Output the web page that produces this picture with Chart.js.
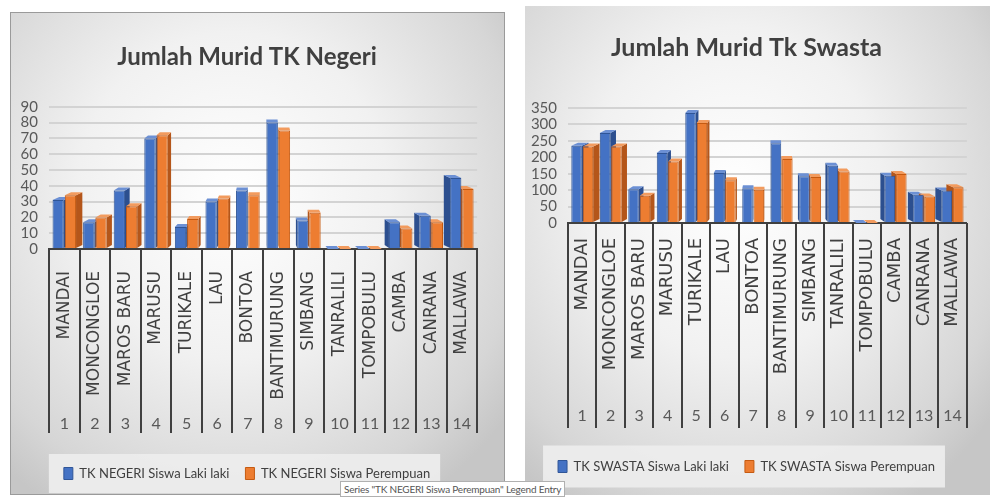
<!DOCTYPE html>
<html lang="id">
<head>
<meta charset="UTF-8">
<title>Jumlah Murid TK</title>
<script src="https://cdn.jsdelivr.net/npm/chart.js"></script>
<style>
  html, body { margin: 0; padding: 0; background: #fff; }
  body { width: 996px; height: 503px; position: relative; overflow: hidden; }
  .panel { position: absolute; box-shadow: inset 0 0 0 1px #9a9a9a;
    background: radial-gradient(ellipse 70% 75% at 45% 38%, #ffffff 0%, #f1f1f1 45%, #d6d6d6 85%, #c6c6c6 100%); }
  #negeriBox { left: 10px; top: 12px; width: 495px; height: 483px; }
  #swastaBox { left: 525px; top: 6px; width: 465px; height: 489px; box-shadow: none; }
  canvas { display: block; }
  .tip { position: absolute; left: 340px; top: 481px; font: 10px Lato, sans-serif; letter-spacing: -0.2px;
    color: #555; background: #fff; border: 1px solid #b0b0b0; padding: 1px 3px; white-space: nowrap; }
</style>
</head>
<body>
  <div class="panel" id="negeriBox"><canvas id="negeriChart"></canvas></div>
  <div class="panel" id="swastaBox"><canvas id="swastaChart"></canvas></div>
  <div class="tip">Series "TK NEGERI Siswa Perempuan" Legend Entry</div>

<script>
  const categories = ['MANDAI', 'MONCONGLOE', 'MAROS BARU', 'MARUSU', 'TURIKALE', 'LAU', 'BONTOA',
    'BANTIMURUNG', 'SIMBANG', 'TANRALILI', 'TOMPOBULU', 'CAMBA', 'CANRANA', 'MALLAWA'];
  const tickNumbers = ['1', '2', '3', '4', '5', '6', '7', '8', '9', '10', '11', '12', '13', '14'];

  const negeriLaki = [31, 17, 37, 70, 14, 30, 37, 80, 18, 0, 0, 17, 21, 45];
  const negeriPerempuan = [34, 20, 27, 72, 19, 32, 34, 75, 23, 0, 0, 13, 17, 38];

  const swastaLaki = [235, 274, 103, 213, 335, 152, 106, 243, 142, 174, 0, 144, 86, 99];
  const swastaPerempuan = [233, 233, 83, 187, 304, 130, 101, 195, 140, 157, 0, 149, 81, 109];

  const uiFont = 'Lato, "Liberation Sans", sans-serif';
  const BLUE = '#4472C4', BLUE_EDGE = '#2F5597';
  const ORANGE = '#ED7D31', ORANGE_EDGE = '#C55A11';
  const faces = [
    { side: '#2C4F8F', top: '#6C90D4' },
    { side: '#B4561A', top: '#F29B5E' }
  ];

  // sisi samping & atas batang (efek 3D), dihitung dari posisi elemen batang
  const depthPlugin = {
    id: 'depth3d',
    beforeDatasetsDraw(chart) {
      const ctx = chart.ctx, ca = chart.chartArea;
      const cx = (ca.left + ca.right) / 2, half = (ca.right - ca.left) / 2;
      ctx.save();
      chart.data.datasets.forEach((ds, di) => {
        chart.getDatasetMeta(di).data.forEach(bar => {
          const { x, y, base, width } = bar.getProps(['x', 'y', 'base', 'width'], true);
          const dx = (cx - x) / half * 7, dy = -3;
          const l = x - width / 2, r = x + width / 2;
          const sx = dx > 0 ? r : l;
          ctx.fillStyle = faces[di].side;
          ctx.beginPath();
          ctx.moveTo(sx, y); ctx.lineTo(sx + dx, y + dy);
          ctx.lineTo(sx + dx, base + dy); ctx.lineTo(sx, base);
          ctx.closePath(); ctx.fill();
          ctx.fillStyle = faces[di].top;
          ctx.beginPath();
          ctx.moveTo(l, y); ctx.lineTo(r, y);
          ctx.lineTo(r + dx, y + dy); ctx.lineTo(l + dx, y + dy);
          ctx.closePath(); ctx.fill();
        });
      });
      ctx.restore();
    }
  };

  // garis tabel kategori + kotak legenda
  const tablePlugin = {
    id: 'tableLines',
    beforeDraw(chart, args, opts) {
      const lg = chart.legend;
      if (!lg || !lg.legendHitBoxes.length) return;
      const hb = lg.legendHitBoxes;
      const l = Math.min(...hb.map(b => b.left)) - opts.boxPadL;
      const r = Math.max(...hb.map(b => b.left + b.width)) + opts.boxPadR;
      const cy = hb[0].top + hb[0].height / 2;
      const ctx = chart.ctx;
      ctx.save();
      ctx.fillStyle = 'rgba(236,236,236,0.95)';
      ctx.fillRect(l, cy - opts.boxH / 2, r - l, opts.boxH);
      ctx.restore();
    },
    afterDraw(chart, args, opts) {
      const x = chart.scales.x, x2 = chart.scales.x2;
      const ctx = chart.ctx;
      const n = chart.data.labels.length;
      const step = (x.right - x.left) / n;
      ctx.save();
      ctx.strokeStyle = '#404040';
      ctx.lineWidth = 2;
      for (let i = 0; i <= n; i++) {
        const px = Math.round(x.left + i * step);
        ctx.beginPath();
        ctx.moveTo(px, x.top);
        ctx.lineTo(px, x2.top + opts.depth);
        ctx.stroke();
      }
      ctx.restore();
    }
  };

  function makeChart(id, s) {
    return new Chart(document.getElementById(id), {
      type: 'bar',
      data: {
        labels: categories,
        datasets: [
          { label: s.names[0], data: s.laki, backgroundColor: BLUE, borderColor: BLUE_EDGE, borderWidth: 1,
            categoryPercentage: 0.8, barPercentage: 0.92 },
          { label: s.names[1], data: s.perempuan, backgroundColor: ORANGE, borderColor: ORANGE_EDGE, borderWidth: 1,
            categoryPercentage: 0.8, barPercentage: 0.92 }
        ]
      },
      options: {
        responsive: true,
        maintainAspectRatio: false,
        animation: false,
        layout: { padding: { left: 0, right: s.padR, top: 0, bottom: s.padB } },
        scales: {
          x: {
            ticks: { autoSkip: false, maxRotation: 90, minRotation: 90, color: '#404040', padding: s.namePad,
              font: { family: '"DejaVu Sans", sans-serif', size: s.nameSize } },
            grid: { display: false, drawTicks: false },
            border: { display: true, color: '#404040', width: 2 },
            afterFit: sc => { sc.height = s.h1; }
          },
          x2: {
            type: 'category', labels: tickNumbers, position: 'bottom', offset: true,
            grid: { display: false, drawTicks: false },
            border: { display: false },
            ticks: { autoSkip: false, maxRotation: 0, color: '#595959', padding: 2,
              font: { family: uiFont, size: 16 } },
            afterFit: sc => { sc.height = s.h2; }
          },
          y: {
            min: 0, max: s.yMax,
            ticks: { stepSize: s.step, autoSkip: false, color: '#595959', padding: 11, font: { family: uiFont, size: 15 } },
            grid: { color: c => c.tick.value === 0 ? 'rgba(0,0,0,0)' : '#d3d3d3', lineWidth: 2, drawTicks: false },
            border: { display: false },
            afterFit: sc => { sc.width = s.yW; }
          }
        },
        plugins: {
          title: { display: true, text: s.title, color: '#404040',
            font: { family: uiFont, size: s.titleSize, weight: 'bold' },
            padding: { top: s.tTop, bottom: s.tBottom } },
          legend: { position: 'bottom',
            labels: { color: '#404040', font: { family: uiFont, size: 13 }, boxWidth: 9, boxHeight: 12, padding: 16 } },
          tooltip: { enabled: false },
          tableLines: { depth: s.depth, boxPadL: 15, boxPadR: 10, boxH: s.boxH }
        }
      },
      plugins: [depthPlugin, tablePlugin]
    });
  }

  makeChart('negeriChart', {
    title: 'Jumlah Murid TK Negeri', titleSize: 24, tTop: 31, tBottom: 35,
    names: ['TK NEGERI Siswa Laki laki', 'TK NEGERI Siswa Perempuan'],
    laki: negeriLaki, perempuan: negeriPerempuan,
    yMax: 90, step: 10, yW: 39, padR: 21, padB: 5,
    h1: 163, h2: 39, depth: 21, nameSize: 17, namePad: 22, boxH: 39
  });

  makeChart('swastaChart', {
    title: 'Jumlah Murid Tk Swasta', titleSize: 25, tTop: 27, tBottom: 45,
    names: ['TK SWASTA Siswa Laki laki', 'TK SWASTA Siswa Perempuan'],
    laki: swastaLaki, perempuan: swastaPerempuan,
    yMax: 350, step: 50, yW: 43, padR: 22, padB: 12,
    h1: 181, h2: 40, depth: 24, nameSize: 18, namePad: 15, boxH: 42
  });
</script>
</body>
</html>
